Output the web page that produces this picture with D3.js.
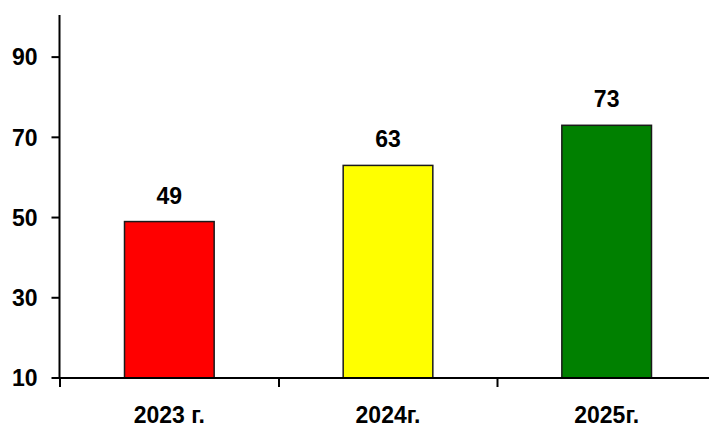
<!DOCTYPE html>
<html>
<head>
<meta charset="utf-8">
<script src="https://cdn.jsdelivr.net/npm/d3@7"></script>
<style>
  html, body { margin: 0; padding: 0; background: #fff; }
  text { font-family: "Liberation Sans", Arial, sans-serif; font-weight: bold; fill: #000; }
</style>
</head>
<body>
<svg id="chart"></svg>
<script>
// data
const categories = ["2023 г.", "2024г.", "2025г."];
const values = [49, 63, 73];
const colors = ["#ff0000", "#ffff00", "#008000"];
const yTicks = [10, 30, 50, 70, 90];

const width = 709, height = 426;
const fontSize = "23px";
const svg = d3.select("#chart").attr("width", width).attr("height", height);

const x = d3.scaleBand()
  .domain(categories)
  .range([60, 716])
  .paddingInner(0.59)
  .paddingOuter(0.295);

const y = d3.scaleLinear()
  .domain([10, 100])
  .range([378, 17]);

// bars
svg.selectAll("rect.bar")
  .data(values)
  .enter()
  .append("rect")
  .attr("class", "bar")
  .attr("x", (d, i) => x(categories[i]))
  .attr("y", d => y(d))
  .attr("width", x.bandwidth())
  .attr("height", d => y(10) - y(d))
  .attr("fill", (d, i) => colors[i])
  .attr("stroke", "#1a1a1a")
  .attr("stroke-width", 1.5);

// value labels
svg.selectAll("text.val")
  .data(values)
  .enter()
  .append("text")
  .attr("class", "val")
  .attr("x", (d, i) => x(categories[i]) + x.bandwidth() / 2)
  .attr("y", d => y(d) - 18)
  .attr("text-anchor", "middle")
  .style("font-size", fontSize)
  .text(d => d);

// y axis
const yAxis = svg.append("g").attr("transform", "translate(59.5,0)");
yAxis.append("line")
  .attr("y1", 15).attr("y2", y(10))
  .attr("stroke", "#000").attr("stroke-width", 2);
yAxis.selectAll("line.tick")
  .data(yTicks)
  .enter()
  .append("line")
  .attr("class", "tick")
  .attr("x1", -8).attr("x2", 0)
  .attr("y1", d => y(d)).attr("y2", d => y(d))
  .attr("stroke", "#000").attr("stroke-width", 2);
yAxis.selectAll("text")
  .data(yTicks)
  .enter()
  .append("text")
  .attr("x", -22)
  .attr("y", d => y(d))
  .attr("dy", "0.36em")
  .attr("text-anchor", "end")
  .style("font-size", fontSize)
  .text(d => d);

// x axis
const xAxis = svg.append("g").attr("transform", `translate(0,${y(10)})`);
xAxis.append("line")
  .attr("x1", 59).attr("x2", width)
  .attr("stroke", "#000").attr("stroke-width", 2);
const bounds = [60, 279, 497.5];
xAxis.selectAll("line.tick")
  .data(bounds)
  .enter()
  .append("line")
  .attr("class", "tick")
  .attr("x1", d => d).attr("x2", d => d)
  .attr("y1", 0).attr("y2", 9)
  .attr("stroke", "#000").attr("stroke-width", 2);
xAxis.selectAll("text")
  .data(categories)
  .enter()
  .append("text")
  .attr("x", d => x(d) + x.bandwidth() / 2)
  .attr("y", 45)
  .attr("text-anchor", "middle")
  .style("font-size", fontSize)
  .text(d => d);
</script>
</body>
</html>
